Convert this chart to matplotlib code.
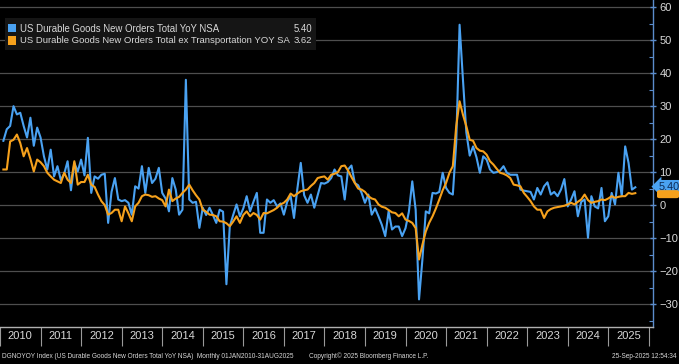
#!/usr/bin/env python3

# Bloomberg style chart: US durable goods new orders, YoY %, monthly Jan 2010 - Aug 2025

import matplotlib
matplotlib.use("Agg")
import matplotlib.pyplot as plt
from matplotlib.patches import Rectangle, FancyBboxPatch
import numpy as np

W, H = 679, 364

# monthly values, Jan 2010 ... Aug 2025 (188 months)
total_yoy_nsa = [
    19.5, 23, 24, 30, 27.5, 28, 24, 20.5, 26.5, 18, 23.5, 20.5,          # 2010
    14.8, 10.8, 16.8, 8.7, 11.8, 7.6, 9.5, 13.3, 4.5, 12.8, 10.2, 13.8,  # 2011
    9, 20.4, 3.7, 8.7, 8, 9.2, 9.5, -5.4, 4, 8.2, 1.7, 1.2,              # 2012
    1.5, 0.7, -2.9, 5.7, 5, 11.8, 3.7, 11.3, 6.7, 8, 11.3, 3.7,          # 2013
    2, -1.9, 8.2, 4.7, -2.9, -1.4, 38, 1.7, 0.7, 1, -6.9, -0.8,          # 2014
    -3, -0.8, -3, -5.4, -1.4, -2, -24, -6.4, -3, 0.2, -3.4, -1,          # 2015
    2.7, -1.9, 1, 3.7, -8.4, -8.4, 1.7, 0.7, 1.5, -0.4, 0.5, -2.9,       # 2016
    1, 2.7, -3.9, 5, 12.8, 3, 0.7, 3.2, -0.8, 3, 6.7, 6.5,               # 2017
    7, 8.2, 10.8, 9, 8.7, 1.7, 10.8, 12, 6.7, 6, 3.7, 0.7,               # 2018
    3.2, -2.9, -1, -3.4, -6, -9.4, -1.9, -7.4, -6.5, -6.5, -9.4, -7,     # 2019
    -2, 7.2, -1.4, -28.6, -16.5, -1.9, -2.5, 3.7, 3.5, 4, 9.8, 5.2,      # 2020
    3.7, 3.2, 18.8, 54.7, 38, 22, 15, 17.8, 14.5, 9.8, 14.8, 13.8,       # 2021
    10.8, 9.8, 10, 10.5, 11.8, 9.8, 9.2, 9.2, 9.2, 4.7, 4.4, 4.2,        # 2022
    4, 1.7, 5.2, 3.2, 5.7, 6.9, 3.2, 4, 2.7, 4.7, 7.9, -0.4,             # 2023
    1.7, 4.2, -3.4, 1, 1.7, -9.9, 2.7, -0.4, -1, 5.2, -4.9, -3.4,        # 2024
    3.7, 0.2, 9.8, 2.7, 17.8, 12.8, 4.7, 5.4,                            # 2025
]

ex_transport_yoy_sa = [
    10.8, 10.8, 19.3, 19.8, 21.4, 18.8, 14.8, 17.3, 14, 10.2, 13.8, 13,  # 2010
    11.8, 9.8, 8.7, 7.7, 7.2, 6.7, 9.8, 7.7, 6.7, 13.3, 6.2, 7,          # 2011
    7, 9.2, 6.2, 5.5, 3.2, 1.2, 0, -2.9, -2.4, -1.4, -1.4, -4.9,         # 2012
    -0.4, -2.5, -4.9, -0.4, 0.7, 2.7, 3.2, 3, 2.5, 2.7, 2, 1.5,          # 2013
    -0.4, 4.7, 1.2, 2, 2.5, 3.7, 4.7, 6.2, 4.5, 3, 1.7, -1.4,            # 2014
    -2, -2.9, -3, -3.4, -4.9, -5, -5.5, -6.4, -5, -3.4, -5.4, -3,        # 2015
    -1.9, -3.4, -2.4, -3, -4.4, -2.4, -2.5, -2, -1.5, -0.8, 0.2, 0.7,    # 2016
    1.7, 3.5, 2.7, 3.5, 4.2, 4.5, 4.7, 5.8, 6.7, 8.2, 8.5, 8.7,          # 2017
    7.7, 9.2, 9.5, 10, 11.8, 12, 10.5, 8.5, 6.7, 5, 4.7, 4,              # 2018
    2.7, 2, 1.7, 0.2, -0.5, -0.8, -1.5, -2.2, -2.4, -3.4, -2.5, -4.4,    # 2019
    -4.8, -5.4, -7, -16.5, -12, -8, -5.4, -3.4, -1, 1.7, 4.5, 6.7,       # 2020
    9.8, 11.8, 23.9, 31.5, 27.4, 23.9, 19.8, 19.5, 17.3, 16.5, 16.3, 15.3,  # 2021
    13.3, 12.3, 11, 9.8, 9.5, 9, 8.2, 6.2, 6, 5.7, 3.7, 2.5,             # 2022
    1.2, -0.4, -1.4, -1.4, -3.9, -1.9, -1.2, -0.8, -0.6, -0.4, -0.2, 0.2,  # 2023
    0.7, 0.2, 1, 1.7, 3.2, 1.5, 0.7, 1, 1.2, 1.7, 1.5, 2,                # 2024
    2.7, 2.2, 2.5, 2.7, 2.7, 3.7, 3.4, 3.62,                             # 2025
]

series_names = ["US Durable Goods New Orders Total YoY NSA",
                "US Durable Goods New Orders Total ex Transportation YOY SA"]
series_last = [5.40, 3.62]
series_colors = ["#4aa2f2", "#f6a11c"]

years = list(range(2010, 2026))
y_ticks = list(range(-30, 61, 10))

footer_left = "DGNOYOY Index (US Durable Goods New Orders Total YoY NSA)  Monthly 01JAN2010-31AUG2025"
footer_mid = "Copyright\u00a9 2025 Bloomberg Finance L.P."
footer_right = "25-Sep-2025 12:54:34"

TXT = "#d8d8d8"
FONT = ["Liberation Sans", "DejaVu Sans"]


# shrink a text until it is no wider than width_px
def fit_text(fig, txt, width_px):
    r = fig.canvas.get_renderer()
    size = txt.get_fontsize()
    while txt.get_window_extent(r).width > width_px and size > 4:
        size -= 0.1
        txt.set_fontsize(size)
    return txt


def main():
    plt.rcParams['font.family'] = FONT

    fig = plt.figure(figsize=(W / 100, H / 100), dpi=100, facecolor="black")

    # axes box in pixels: left 0, right 653, top 0, bottom 327
    ax = fig.add_axes([0, (H - 327) / H, 653 / W, 327 / H], facecolor="black")

    # monthly points plotted at month end
    n = len(total_yoy_nsa)
    t = 2010 + (np.arange(n) + 1) / 12.0

    for yv in y_ticks:
        ax.axhline(yv, color="#4e4e4e", lw=0.9, zorder=1)

    ax.plot(t, total_yoy_nsa, color=series_colors[0], lw=1.5, zorder=3)
    ax.plot(t, ex_transport_yoy_sa, color=series_colors[1], lw=1.5, zorder=4)

    ax.set_xlim(2010.059, 2026.103)
    ax.set_ylim(-36.97, 62.2)

    # y axis on the right
    ax.yaxis.tick_right()
    ax.set_yticks(y_ticks)
    ax.set_yticks(np.arange(-35, 61, 5), minor=True)
    ax.tick_params(axis="y", which="major", direction="inout", length=5, width=1,
                   color="#5b8ccc", labelcolor=TXT, labelsize=8, pad=2)
    ax.tick_params(axis="y", which="minor", direction="in", length=3, width=0.8,
                   color="#5b8ccc")

    # years: separators at year starts, labels in the middle
    ax.set_xticks(years + [2026])
    ax.set_xticklabels([])
    ax.set_xticks([y + 0.5 for y in years], minor=True)
    ax.set_xticklabels([str(y) for y in years], minor=True)
    ax.tick_params(axis="x", which="major", direction="out", length=14, width=0.8,
                   color="#9a9a9a")
    ax.tick_params(axis="x", which="minor", length=0, labelcolor=TXT, labelsize=8, pad=3)

    for side in ["left", "top"]:
        ax.spines[side].set_visible(False)
    ax.spines["bottom"].set_color("#b0b0b0")
    ax.spines["bottom"].set_linewidth(1)
    ax.spines["right"].set_color("#5b8ccc")
    ax.spines["right"].set_linewidth(1)

    # last value tags on the right; the orange one sits mostly hidden under the blue one
    y_or = ax.transData.transform((2026, series_last[1]))[1]
    fig.patches.append(FancyBboxPatch((657 / W, (y_or - 5) / H), 22 / W, 8 / H,
                                      boxstyle="round,pad=0,rounding_size=0.004",
                                      transform=fig.transFigure, facecolor=series_colors[1],
                                      edgecolor="none", zorder=5))
    ax.annotate("%.2f" % series_last[0], xy=(1.0, series_last[0]),
                xycoords=("axes fraction", "data"),
                xytext=(4, 0.5), textcoords="offset points", va="center", ha="left",
                fontsize=7.8, color="#0c2a55", annotation_clip=False, zorder=6,
                bbox=dict(boxstyle="larrow,pad=0.15", fc=series_colors[0], ec="none"))

    # legend box
    fig.patches.append(Rectangle((5 / W, 1 - 50 / H), 311 / W, 32 / H, transform=fig.transFigure,
                                 facecolor="#151515", edgecolor="none", zorder=5))
    for i in range(2):
        yc = 1 - (28.5 + 12 * i) / H
        fig.patches.append(Rectangle((8 / W, yc - 4 / H), 8 / W, 8 / H, transform=fig.transFigure,
                                     facecolor=series_colors[i], edgecolor="none", zorder=6))
        name = fig.text(20 / W, yc, series_names[i], color=TXT, fontsize=8, va="center",
                        ha="left", zorder=7)
        fit_text(fig, name, 270 if i == 1 else 200)
        fig.text(312 / W, yc, "%.2f" % series_last[i], color=TXT, fontsize=name.get_fontsize(),
                 va="center", ha="right", zorder=7)

    # footer
    fy = 1 - 356 / H
    left = fig.text(2 / W, fy, footer_left, color=TXT, fontsize=7, va="center", ha="left")
    fit_text(fig, left, 295)
    fs = left.get_fontsize()
    fig.text(309 / W, fy, footer_mid, color=TXT, fontsize=fs, va="center", ha="left")
    fig.text(677 / W, fy, footer_right, color=TXT, fontsize=fs, va="center", ha="right")

    fig.savefig("out.png", dpi=100, facecolor="black")


if __name__ == '__main__':
    main()
